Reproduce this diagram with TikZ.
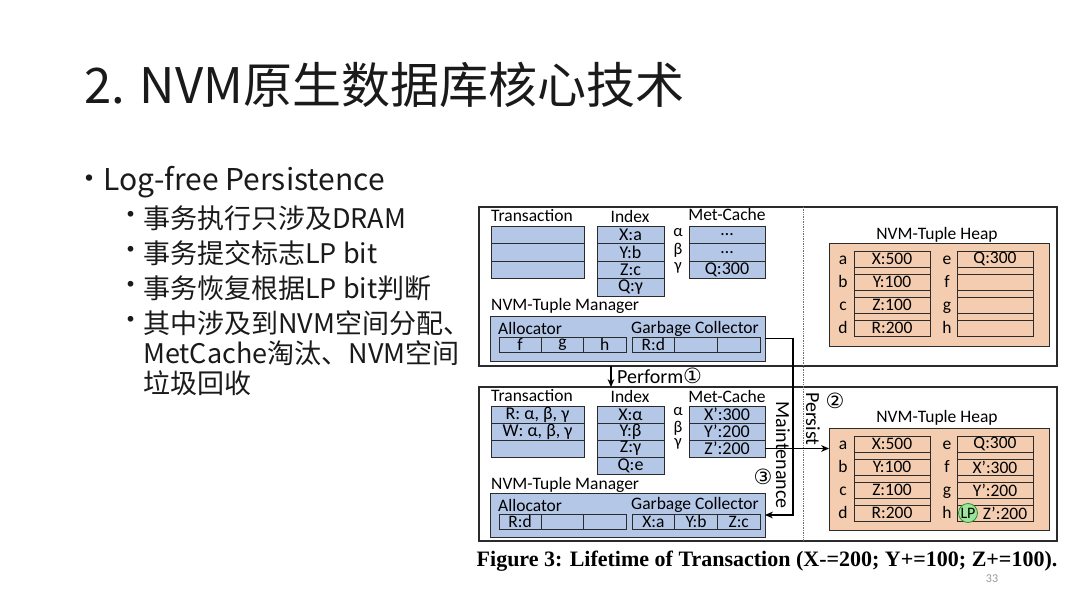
\documentclass[tikz,border=0pt]{standalone}
\usepackage{fontspec}
\usepackage{tikz}
\usetikzlibrary{arrows.meta, positioning, calc}
\setmainfont{Carlito}
\newfontfamily\cjkfont{Noto Sans CJK SC}
\newfontfamily\capfont{Liberation Serif}
\newfontfamily\circfont{DejaVu Sans}
\definecolor{cellblue}{HTML}{B4C7E7}
\definecolor{heappeach}{HTML}{F4CCAF}
\definecolor{lpgreen}{HTML}{9BE49B}
\definecolor{lpedge}{HTML}{2F8F2F}
\definecolor{inkgray}{HTML}{2B2B2B}
\definecolor{slidetext}{HTML}{1A1A1A}
\tikzset{
    panel/.style={rectangle, draw=inkgray, line width=1.1pt, anchor=north west, inner sep=0pt, outer sep=0pt},
    tag/.style={inner sep=0pt, text=black, font=\fontsize{17.5}{17.5}\selectfont},
    greek/.style={inner sep=0pt, text=black, font=\fontsize{16.5}{16.5}\selectfont},
    flowtag/.style={inner sep=0pt, text=black, font=\fontsize{20}{20}\selectfont},
    cell/.style={rectangle, draw=inkgray, fill=cellblue, line width=0.8pt, minimum height=17.5pt, inner sep=0pt, outer sep=0pt, anchor=north west, font=\fontsize{18}{18}\selectfont},
    smallcell/.style={cell, minimum height=15pt, font=\fontsize{17.5}{17.5}\selectfont},
    slot/.style={rectangle, draw=inkgray, line width=0.8pt, minimum width=76pt, inner sep=0pt, outer sep=0pt, anchor=north west, font=\fontsize{17.5}{17.5}\selectfont},
    heapbox/.style={rectangle, draw=inkgray, fill=heappeach, line width=1pt, minimum width=220pt, anchor=north west, inner sep=0pt, outer sep=0pt},
    mgrbox/.style={rectangle, draw=inkgray, fill=cellblue, line width=1pt, minimum width=275pt, minimum height=45pt, anchor=north west, inner sep=0pt, outer sep=0pt},
    lpmark/.style={circle, draw=lpedge, fill=lpgreen, line width=0.8pt, minimum size=19pt, inner sep=0pt, font=\fontsize{16}{16}\selectfont},
    sepline/.style={densely dotted, draw=black!55, line width=0.7pt},
    arrow/.style={-{Stealth[length=2.8mm, width=2.4mm]}, line width=1.1pt, draw=black},
    slidetitle/.style={inner sep=0pt, anchor=west, text=slidetext, font=\cjkfont\fontsize{49}{49}\selectfont},
    bullet/.style={inner sep=0pt, anchor=west, text=slidetext, font=\cjkfont\fontsize{30}{30}\selectfont},
    subbullet/.style={inner sep=0pt, anchor=west, text=slidetext, font=\cjkfont\fontsize{27}{27}\selectfont},
    caption/.style={inner sep=0pt, text=black, font=\capfont\bfseries\fontsize{22}{22}\selectfont}
}
\newcommand{\circnum}[1]{{\circfont\fontsize{21}{21}\selectfont #1}}

\begin{document}
\begin{tikzpicture}[x=1pt, y=-1pt]
        \useasboundingbox[fill=white] (0,0) rectangle (1080,608);
        \node[slidetitle] (title) at (84,85) {2. NVM原生数据库核心技术};
        \node[bullet, anchor=center] (b0) at (89,182) {•};
        \node[bullet] (t0) at (103,182) {Log-free Persistence};
        \foreach \t/\y [count=\i] in {事务执行只涉及DRAM/218, 事务提交标志LP bit/253, 事务恢复根据LP bit判断/288, 其中涉及到NVM空间分配、/323} {
            \node[subbullet, anchor=center] (sb\i) at (131,\y) {•};
            \node[subbullet] (st\i) at (143,\y) {\t};
        }
        \node[subbullet] (st5) at (143,353) {MetCache淘汰、NVM空间};
        \node[subbullet] (st6) at (143,383) {垃圾回收};

        \node[panel, minimum width=578pt, minimum height=159pt] (dram1) at (479,207) {};
        \node[panel, minimum width=578pt, minimum height=154pt] (dram2) at (479,387) {};
        \draw[sepline] ([xshift=324pt]dram1.north west) -- ([xshift=324pt]dram2.south west);

        \node[tag, anchor=west] (txl1) at (491,216) {Transaction};
        \node[tag] (ixl1) at (630,216) {Index};
        \node[tag] (mcl1) at (727,214) {Met-Cache};
        \foreach \i in {1,2,3}
            \node[cell, minimum width=93pt] (tx1\i) at (491,{226+17.5*(\i-1)}) {};
        \foreach \t [count=\i] in {X:a, Y:b, Z:c, Q:γ}
            \node[cell, minimum width=67pt] (ix1\i) at (597,{226+17.5*(\i-1)}) {\t};
        \foreach \t [count=\i] in {…, …, Q:300}
            \node[cell, minimum width=76pt] (mc1\i) at (689,{226+17.5*(\i-1)}) {\t};
        \foreach \g [count=\i] in {α, β, γ}
            \node[greek] (gr1\i) at (678,{233+17.5*(\i-1)}) {\g};
        \node[tag, anchor=west] (mgl1) at (491,306) {NVM-Tuple Manager};
        \node[mgrbox] (mgr1) at (490,316) {};
        \node[tag, anchor=west] (all1) at (498,328) {Allocator};
        \node[tag, anchor=east] (gcl1) at (759,329) {Garbage Collector};
        \foreach \t [count=\i] in {f, g, h}
            \node[smallcell, minimum width=42.3pt] (al1\i) at ({499+42.3*(\i-1)},337) {\t};
        \foreach \t [count=\i] in {R:d, {}, {}}
            \node[smallcell, minimum width=42.7pt] (gc1\i) at ({632+42.7*(\i-1)},337) {\t};

        \node[tag] (hpl1) at (937,235) {NVM-Tuple Heap};
        \node[heapbox, minimum height=103pt] (heap1) at (829,243) {};
        \foreach \t/\l [count=\i] in {X:500/a, Y:100/b, Z:100/c, R:200/d} {
            \node[slot, minimum height=16pt] (hl1\i) at (854,{251+23*(\i-1)}) {\t};
            \node[tag, anchor=base] (hk1\i) at (843,{264+23*(\i-1)}) {\l};
        }
        \foreach \t/\l [count=\i] in {Q:300/e, {}/f, {}/g, {}/h} {
            \node[slot, minimum height=16pt] (hr1\i) at (957,{251+23*(\i-1)}) {\t};
            \node[tag, anchor=base] (hm1\i) at (947,{264+23*(\i-1)}) {\l};
        }
        \foreach \i in {1,2,3} {
            \node[slot, minimum height=7pt] (hlt1\i) at (854,{267+23*(\i-1)}) {};
            \node[slot, minimum height=7pt] (hrt1\i) at (957,{267+23*(\i-1)}) {};
        }

        \coordinate (pf) at (611,376);
        \draw[arrow] (pf |- dram1.south) -- (pf |- dram2.north);
        \node[flowtag, anchor=west] (perf) at (617,376) {Perform\circnum{①}};

        \node[tag, anchor=west] (txl2) at (491,396) {Transaction};
        \node[tag] (ixl2) at (630,396) {Index};
        \node[tag] (mcl2) at (727,396) {Met-Cache};
        \foreach \t [count=\i] in {{R: α, β, γ}, {W: α, β, γ}, {}}
            \node[cell, minimum width=93pt, minimum height=17pt] (tx2\i) at (491,{406+17*(\i-1)}) {\t};
        \foreach \t [count=\i] in {X:α, Y:β, Z:γ, Q:e}
            \node[cell, minimum width=67pt, minimum height=17pt] (ix2\i) at (597,{406+17*(\i-1)}) {\t};
        \foreach \t [count=\i] in {X’:300, Y’:200, Z’:200}
            \node[cell, minimum width=76pt, minimum height=17pt] (mc2\i) at (689,{406+17*(\i-1)}) {\t};
        \foreach \g [count=\i] in {α, β, γ}
            \node[greek] (gr2\i) at (678,{412+16*(\i-1)}) {\g};
        \node[tag, anchor=west] (mgl2) at (491,485) {NVM-Tuple Manager};
        \node[mgrbox, minimum height=44pt] (mgr2) at (490,493) {};
        \node[tag, anchor=west] (all2) at (498,505) {Allocator};
        \node[tag, anchor=east] (gcl2) at (759,505) {Garbage Collector};
        \foreach \t [count=\i] in {R:d, {}, {}}
            \node[smallcell, minimum width=42.3pt] (al2\i) at ({499+42.3*(\i-1)},514) {\t};
        \foreach \t [count=\i] in {X:a, Y:b, Z:c}
            \node[smallcell, minimum width=42.7pt] (gc2\i) at ({632+42.7*(\i-1)},514) {\t};

        \node[tag] (hpl2) at (937,418) {NVM-Tuple Heap};
        \node[heapbox, minimum height=102pt] (heap2) at (829,428) {};
        \foreach \t/\l [count=\i] in {X:500/a, Y:100/b, Z:100/c, R:200/d} {
            \node[slot, minimum height=16pt] (hl2\i) at (854,{436+23*(\i-1)}) {\t};
            \node[tag, anchor=base] (hk2\i) at (843,{449+23*(\i-1)}) {\l};
        }
        \foreach \t/\l [count=\i] in {Q:300/e, X’:300/f, Y’:200/g, {\hspace*{20pt}Z’:200}/h} {
            \node[slot, minimum height=16pt] (hr2\i) at (957,{436+23*(\i-1)}) {\t};
            \node[tag, anchor=base] (hm2\i) at (947,{449+23*(\i-1)}) {\l};
        }
        \foreach \i in {1,2,3} {
            \node[slot, minimum height=7pt] (hlt2\i) at (854,{452+23*(\i-1)}) {};
            \node[slot, minimum height=7pt] (hrt2\i) at (957,{452+23*(\i-1)}) {};
        }
        \node[lpmark] (lp) at (968,513) {LP};

        \draw[arrow] (mgr1.east) -- ++(28,0) |- (mgr2.east);
        \draw[arrow] (mc23.east) -- (mc23.east -| heap2.west);
        \node[flowtag, rotate=-90] (maint) at (783,455) {Maintenance};
        \node[flowtag, rotate=-90] (pers) at (813,419) {Persist};
        \node[inner sep=0pt] (c2) at (835,401) {\circnum{②}};
        \node[inner sep=0pt] (c3) at (763,477) {\circnum{③}};

        \node[caption] (cap) at (767,561) {Figure 3: Lifetime of Transaction (X-=200; Y+=100; Z+=100).};
        \node[inner sep=0pt, text=black!40, font=\fontsize{12}{12}\selectfont] (pg) at (992,579) {33};
    \end{tikzpicture}
\end{document}
